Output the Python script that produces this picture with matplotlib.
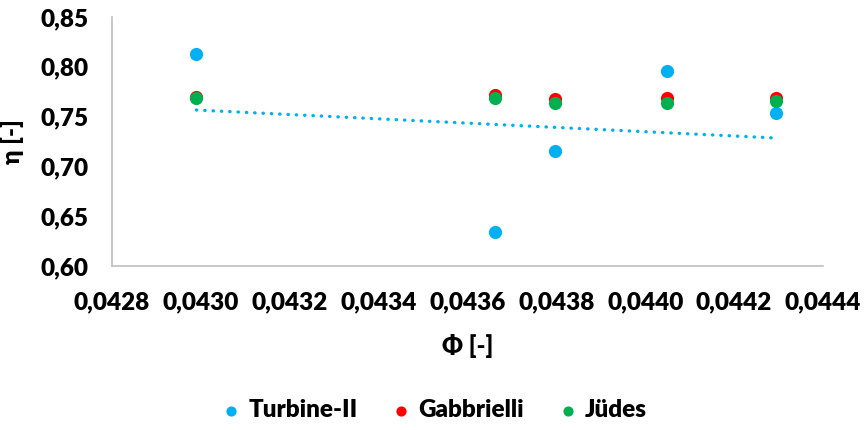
import numpy as np
import matplotlib
matplotlib.use("Agg")
import matplotlib.pyplot as plt
from matplotlib.ticker import FuncFormatter

plt.rcParams['font.family'] = ['Lato', 'DejaVu Sans']

phi = [0.04299, 0.043663, 0.043798, 0.044049, 0.044294]
turbine = [0.813, 0.634, 0.7155, 0.7955, 0.7536]
gabbrielli = [0.770, 0.772, 0.768, 0.769, 0.769]
judes = [0.769, 0.769, 0.764, 0.764, 0.766]
trend_y = [0.7566, 0.7285]  # Turbine-II linear trendline at first/last phi

series = [("Turbine-II", turbine, "#00B0F0"),
          ("Gabbrielli", gabbrielli, "#FF0000"),
          ("Jüdes", judes, "#00B050")]

W = 'heavy'
FS = 17.5

fig = plt.figure(figsize=(8.68, 4.30), dpi=100)
ax = fig.add_axes([112/868, 1-266/430, (823-112)/868, (266-17)/430])

for name, vals, col in series:
    ax.scatter(phi, vals, s=90, color=col, label=name, zorder=3, linewidths=0)

ax.plot([phi[0], phi[-1]], trend_y, color="#00B0F0", lw=2.4,
        linestyle=(0, (0.1, 2.4)), dash_capstyle='round', zorder=2)

ax.set_xlim(0.0428, 0.0444)
ax.set_ylim(0.60, 0.85)
ax.set_xticks(np.arange(0.0428, 0.04441, 0.0002))
ax.set_yticks(np.arange(0.60, 0.8501, 0.05))
ax.xaxis.set_major_formatter(FuncFormatter(lambda v, p: f"{v:.4f}".replace(".", ",")))
ax.yaxis.set_major_formatter(FuncFormatter(lambda v, p: f"{v:.2f}".replace(".", ",")))
ax.tick_params(length=0, labelsize=FS)
ax.tick_params(axis='y', pad=17)
ax.tick_params(axis='x', pad=18)
for lab in ax.get_xticklabels() + ax.get_yticklabels():
    lab.set_fontweight(W)

for s in ['top', 'right']:
    ax.spines[s].set_visible(False)
for s in ['left', 'bottom']:
    ax.spines[s].set_color('#BFBFBF')
    ax.spines[s].set_linewidth(1.2)

ax.set_xlabel("Φ [-]", fontsize=FS, fontweight=W, labelpad=15)
ax.set_ylabel("η [-]", fontsize=FS, fontweight=W, labelpad=12)

fig.legend(loc='center', bbox_to_anchor=(0.5, 1-410/430), ncol=3, frameon=False,
           markerscale=0.77, handlelength=0.8, handletextpad=0.3, columnspacing=1.4,
           prop={'weight': W, 'size': FS})

fig.savefig("out.png", dpi=100)
